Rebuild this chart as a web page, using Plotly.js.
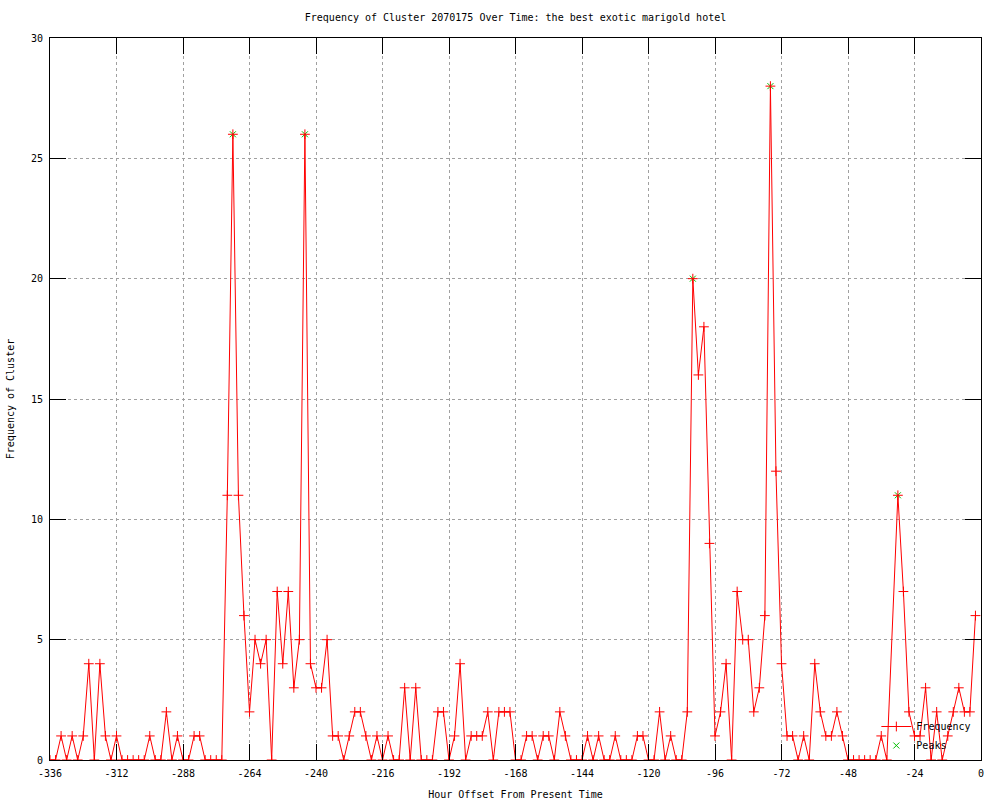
<!DOCTYPE html>
<html>
<head>
<meta charset="utf-8">
<script src="https://cdn.plot.ly/plotly-3.0.1.min.js"></script>
<style>
  html, body { margin: 0; padding: 0; background: #ffffff; }
  #chart { width: 1000px; height: 800px; }
</style>
</head>
<body>
<div id="chart"></div>
<script>
// Hour offsets (every 2 hours)
var hours = [
  -336,-334,-332,-330,-328,-326,-324,-322,-320,-318,
  -316,-314,-312,-310,-308,-306,-304,-302,-300,-298,
  -296,-294,-292,-290,-288,-286,-284,-282,-280,-278,
  -276,-274,-272,-270,-268,-266,-264,-262,-260,-258,
  -256,-254,-252,-250,-248,-246,-244,-242,-240,-238,
  -236,-234,-232,-230,-228,-226,-224,-222,-220,-218,
  -216,-214,-212,-210,-208,-206,-204,-202,-200,-198,
  -196,-194,-192,-190,-188,-186,-184,-182,-180,-178,
  -176,-174,-172,-170,-168,-166,-164,-162,-160,-158,
  -156,-154,-152,-150,-148,-146,-144,-142,-140,-138,
  -136,-134,-132,-130,-128,-126,-124,-122,-120,-118,
  -116,-114,-112,-110,-108,-106,-104,-102,-100,-98,
  -96,-94,-92,-90,-88,-86,-84,-82,-80,-78,
  -76,-74,-72,-70,-68,-66,-64,-62,-60,-58,
  -56,-54,-52,-50,-48,-46,-44,-42,-40,-38,
  -36,-34,-32,-30,-28,-26,-24,-22,-20,-18,
  -16,-14,-12,-10,-8,-6,-4,-2
];
// Frequency of cluster at each offset (null = no sample)
var counts = [
  0,0,1,0,1,0,1,4,0,4,
  1,0,1,0,0,0,0,0,1,0,
  0,2,0,1,0,0,1,1,0,0,
  0,0,11,26,11,6,2,5,4,5,
  0,7,4,7,3,5,26,4,3,3,
  5,1,1,0,1,2,2,1,0,1,
  0,1,0,0,3,0,3,0,0,0,
  2,2,0,1,4,0,1,1,1,2,
  0,2,2,2,0,0,1,1,0,1,
  1,0,2,1,0,0,0,1,0,1,
  0,0,1,0,0,0,1,1,0,0,
  2,0,1,0,0,2,20,16,18,9,
  1,2,4,0,7,5,5,2,3,6,
  28,12,4,1,1,0,1,0,4,2,
  1,1,2,1,0,0,0,0,0,0,
  1,0,null,11,7,2,1,1,3,0,
  2,0,1,2,3,2,2,6
];
// Detected peaks
var peakHours  = [-270, -244, -104, -76, -30];
var peakCounts = [26, 26, 20, 28, 11];

// Axis ticks
var xTickVals = [-336,-312,-288,-264,-240,-216,-192,-168,-144,-120,-96,-72,-48,-24,0];
var xTickText = ["-336","-312","-288","-264","-240","-216","-192","-168","-144","-120","-96","-72","-48","-24","0"];
var yTickVals = [0,5,10,15,20,25,30];

var FONT = "DejaVu Sans Mono, Liberation Mono, monospace";

var traces = [
  {
    x: peakHours, y: peakCounts, name: "Peaks", type: "scatter", mode: "markers",
    marker: { symbol: "x-thin-open", size: 6, color: "#00c000", line: { color: "#00c000", width: 1 } },
    hoverinfo: "x+y"
  },
  {
    x: hours, y: counts, name: "Frequency", type: "scatter", mode: "lines+markers",
    connectgaps: true,
    line: { color: "#ff0000", width: 1 },
    marker: { symbol: "cross-thin-open", size: 7, color: "#ff0000", line: { color: "#ff0000", width: 1 } },
    hoverinfo: "x+y"
  }
];

var layout = {
  width: 1000, height: 800,
  paper_bgcolor: "#ffffff", plot_bgcolor: "#ffffff",
  margin: { l: 50, r: 19, t: 38, b: 40 },
  font: { family: FONT, size: 10, color: "#000000" },
  title: {
    text: "Frequency of Cluster 2070175 Over Time: the best exotic marigold hotel",
    font: { family: FONT, size: 10, color: "#000000" },
    xref: "paper", x: 0.5, xanchor: "center",
    yref: "container", y: 0.978, yanchor: "middle"
  },
  xaxis: {
    range: [-336, 0], autorange: false,
    tickmode: "array", tickvals: xTickVals, ticktext: xTickText,
    ticks: "inside", ticklen: 16, tickcolor: "#000000", tickwidth: 1,
    showline: true, linecolor: "#000000", linewidth: 1, mirror: "ticks",
    showgrid: true, gridcolor: "#a0a0a0", gridwidth: 1, griddash: "dot",
    zeroline: false,
    ticklabelstandoff: 4,
    tickfont: { family: FONT, size: 10, color: "#000000" },
    title: { text: "Hour Offset From Present Time", font: { family: FONT, size: 10, color: "#000000" }, standoff: 12 },
    automargin: false
  },
  yaxis: {
    range: [0, 30], autorange: false,
    tickmode: "array", tickvals: yTickVals,
    ticks: "inside", ticklen: 16, tickcolor: "#000000", tickwidth: 1,
    showline: true, linecolor: "#000000", linewidth: 1, mirror: "ticks",
    showgrid: true, gridcolor: "#a0a0a0", gridwidth: 1, griddash: "dot",
    zeroline: false,
    ticklabelstandoff: 4,
    tickfont: { family: FONT, size: 10, color: "#000000" },
    title: { text: "Frequency of Cluster", font: { family: FONT, size: 10, color: "#000000" }, standoff: 14 },
    automargin: false
  },
  legend: {
    x: 0.995, xanchor: "right", y: 0.0, yanchor: "bottom",
    bgcolor: "rgba(0,0,0,0)", borderwidth: 0,
    traceorder: "reversed",
    font: { family: FONT, size: 10, color: "#000000" },
    itemwidth: 30, tracegroupgap: 0
  },
  showlegend: true
};

Plotly.newPlot("chart", traces, layout, { displayModeBar: false, staticPlot: true });
</script>
</body>
</html>
